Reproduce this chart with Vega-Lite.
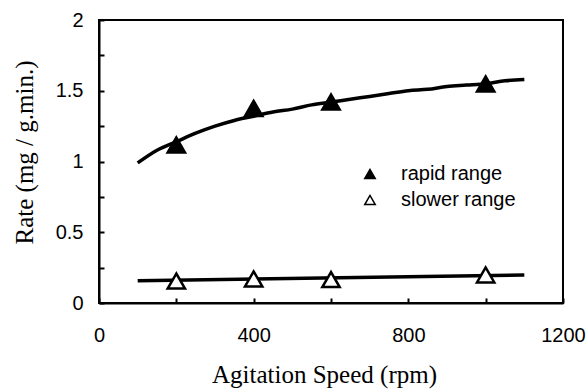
{
  "$schema": "https://vega.github.io/schema/vega-lite/v6.json",
  "width": 464,
  "height": 283,
  "autosize": "none",
  "padding": {"left": 99, "top": 20, "right": 23, "bottom": 88},
  "background": "white",
  "config": {
    "view": {"stroke": "black", "strokeWidth": 2},
    "font": "Liberation Sans"
  },
  "datasets": {
    "curves": [
      {"speed": 100, "rate": 0.99, "series": "rapid"},
      {"speed": 150, "rate": 1.08, "series": "rapid"},
      {"speed": 200, "rate": 1.14, "series": "rapid"},
      {"speed": 250, "rate": 1.2, "series": "rapid"},
      {"speed": 300, "rate": 1.25, "series": "rapid"},
      {"speed": 350, "rate": 1.29, "series": "rapid"},
      {"speed": 400, "rate": 1.32, "series": "rapid"},
      {"speed": 450, "rate": 1.35, "series": "rapid"},
      {"speed": 500, "rate": 1.37, "series": "rapid"},
      {"speed": 550, "rate": 1.4, "series": "rapid"},
      {"speed": 600, "rate": 1.42, "series": "rapid"},
      {"speed": 650, "rate": 1.44, "series": "rapid"},
      {"speed": 700, "rate": 1.46, "series": "rapid"},
      {"speed": 750, "rate": 1.48, "series": "rapid"},
      {"speed": 800, "rate": 1.5, "series": "rapid"},
      {"speed": 850, "rate": 1.51, "series": "rapid"},
      {"speed": 900, "rate": 1.53, "series": "rapid"},
      {"speed": 950, "rate": 1.54, "series": "rapid"},
      {"speed": 1000, "rate": 1.55, "series": "rapid"},
      {"speed": 1050, "rate": 1.57, "series": "rapid"},
      {"speed": 1100, "rate": 1.58, "series": "rapid"},
      {"speed": 100, "rate": 0.158, "series": "slower"},
      {"speed": 1100, "rate": 0.198, "series": "slower"}
    ],
    "points": [
      {"speed": 200, "rate": 1.117, "range": "rapid range"},
      {"speed": 400, "rate": 1.375, "range": "rapid range"},
      {"speed": 600, "rate": 1.42, "range": "rapid range"},
      {"speed": 1000, "rate": 1.548, "range": "rapid range"},
      {"speed": 200, "rate": 0.155, "range": "slower range"},
      {"speed": 400, "rate": 0.17, "range": "slower range"},
      {"speed": 600, "rate": 0.166, "range": "slower range"},
      {"speed": 1000, "rate": 0.198, "range": "slower range"}
    ]
  },
  "encoding": {
    "x": {
      "field": "speed",
      "type": "quantitative",
      "scale": {"domain": [0, 1200], "nice": false},
      "axis": {
        "title": "Agitation Speed (rpm)",
        "titleFont": "Liberation Serif",
        "titleFontSize": 25,
        "titleFontWeight": "normal",
        "titleColor": "black",
        "titlePadding": 17,
        "titleX": 225,
        "values": [0, 200, 400, 600, 800, 1000, 1200],
        "format": "d",
        "labelExpr": "datum.value % 400 === 0 ? datum.label : ''",
        "labelFontSize": 20,
        "labelColor": "black",
        "labelPadding": 27,
        "labelFlush": false,
        "grid": false,
        "domainColor": "black",
        "domainWidth": 2,
        "tickColor": "black",
        "tickWidth": 2,
        "tickSize": -5
      }
    },
    "y": {
      "field": "rate",
      "type": "quantitative",
      "scale": {"domain": [0, 2], "nice": false},
      "axis": {
        "title": "Rate  (mg / g.min.)",
        "titleFont": "Liberation Serif",
        "titleFontSize": 25,
        "titleFontWeight": "normal",
        "titleColor": "black",
        "titlePadding": 18,
        "titleY": 132,
        "values": [0, 0.25, 0.5, 0.75, 1, 1.25, 1.5, 1.75, 2],
        "format": "~g",
        "labelExpr": "(datum.value * 2) % 1 === 0 ? datum.label : ''",
        "labelFontSize": 20,
        "labelColor": "black",
        "labelPadding": 21,
        "labelFlush": false,
        "grid": false,
        "domainColor": "black",
        "domainWidth": 2,
        "tickColor": "black",
        "tickWidth": 2,
        "tickSize": -5
      }
    }
  },
  "layer": [
    {
      "data": {"name": "curves"},
      "mark": {"type": "line", "color": "black", "strokeWidth": 3.5, "interpolate": "monotone"},
      "encoding": {"detail": {"field": "series"}}
    },
    {
      "data": {"name": "points"},
      "mark": {"type": "point", "filled": true, "size": 300, "strokeWidth": 2.5, "opacity": 1},
      "encoding": {
        "shape": {
          "field": "range",
          "type": "nominal",
          "scale": {"range": ["triangle-up", "triangle-up"]},
          "legend": {
            "title": null,
            "orient": "none",
            "legendX": 261,
            "legendY": 144,
            "padding": 0,
            "symbolSize": 110,
            "symbolStrokeWidth": 1.5,
            "labelFontSize": 20,
            "labelColor": "black",
            "labelOffset": 21,
            "rowPadding": 6
          }
        },
        "fill": {
          "field": "range",
          "type": "nominal",
          "scale": {"range": ["black", "white"]},
          "legend": {
            "title": null,
            "orient": "none",
            "legendX": 261,
            "legendY": 144,
            "padding": 0,
            "symbolSize": 110,
            "symbolStrokeWidth": 1.5,
            "labelFontSize": 20,
            "labelColor": "black",
            "labelOffset": 21,
            "rowPadding": 6
          }
        },
        "stroke": {
          "field": "range",
          "type": "nominal",
          "scale": {"range": ["black", "black"]},
          "legend": {
            "title": null,
            "orient": "none",
            "legendX": 261,
            "legendY": 144,
            "padding": 0,
            "symbolSize": 110,
            "symbolStrokeWidth": 1.5,
            "labelFontSize": 20,
            "labelColor": "black",
            "labelOffset": 21,
            "rowPadding": 6
          }
        }
      }
    }
  ]
}
